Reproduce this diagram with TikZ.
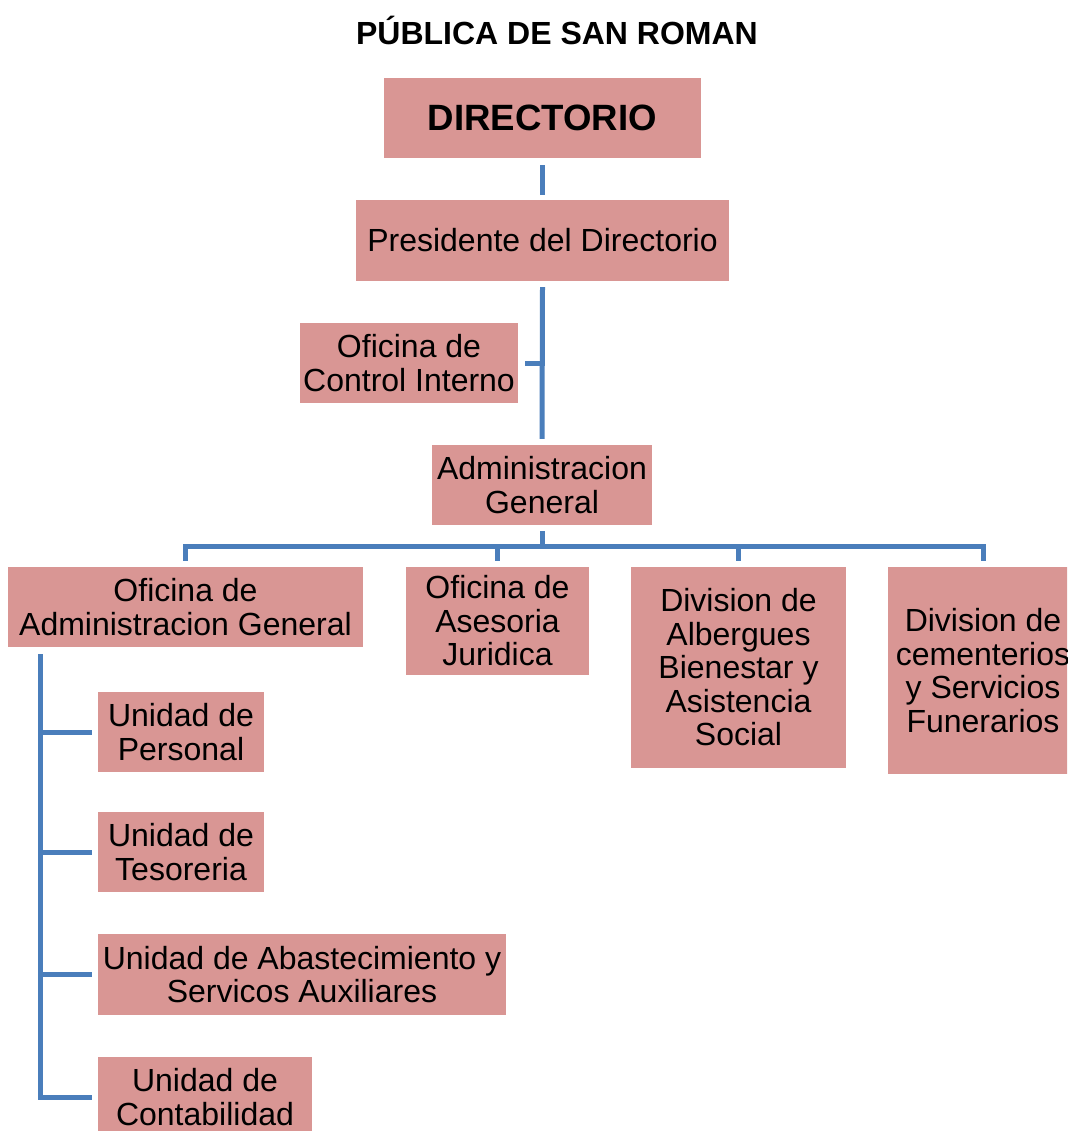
\documentclass[tikz,border=0pt]{standalone}
\usepackage{fontspec}
\setmainfont{Liberation Sans}
\usepackage{tikz}
\definecolor{boxpink}{RGB}{217,150,148}
\definecolor{linkblue}{RGB}{74,126,187}

\begin{document}
\begin{tikzpicture}
[x=1pt,y=-1pt]
\tikzstyle{pink box}=[fill=boxpink,inner sep=0,align=center,font=\fontsize{32}{33.5}\selectfont]
\tikzstyle{link}=[draw=linkblue,line width=5pt]

\clip(0,0)rectangle(1067,1131);

\node(t)at(557,30){\fontsize{32}{34}\selectfont\bfseries PÚBLICA DE SAN ROMAN};

\node(0)[pink box,minimum width=317,minimum height=80,font=\fontsize{36.6}{40}\selectfont\bfseries]at(542.5,118){DIRECTORIO};
\node(1)[pink box,minimum width=373,minimum height=81]at(542.5,240.5){Presidente del Directorio};
\node(2)[pink box,minimum width=218,minimum height=80]at(409,363){Oficina de\\Control Interno};
\node(3)[pink box,minimum width=220,minimum height=80]at(542,485){Administracion\\General};

\node(4)[pink box,minimum width=355,minimum height=80]at(185.5,607){Oficina de\\Administracion General};
\node(5)[pink box,minimum width=183,minimum height=108]at(497.5,621){Oficina de\\Asesoria\\Juridica};
\node(6)[pink box,minimum width=215,minimum height=201]at(738.5,667.5){Division de\\Albergues\\Bienestar y\\Asistencia\\Social};
\node(7)[pink box,minimum width=190,minimum height=207]at(983,670.5){Division de\\cementerios\\y Servicios\\Funerarios};

\node(8)[pink box,minimum width=166,minimum height=80]at(181,732){Unidad de\\Personal};
\node(9)[pink box,minimum width=166,minimum height=80]at(181,852){Unidad de\\Tesoreria};
\node(10)[pink box,minimum width=408,minimum height=81]at(302,974.5){Unidad de Abastecimiento y\\Servicos Auxiliares};
\node(11)[pink box,minimum width=214,minimum height=80]at(205,1097){Unidad de\\Contabilidad};

% top of the chart
\draw[link]([yshift=-7pt]0.south)--([yshift=5pt]1.north);
\draw[link]([yshift=-6pt]1.south)--([yshift=6pt]3.north);
\draw[link]([xshift=7pt]2.east)--(2.east-|1.south);

% branches under Administracion General
\coordinate(bus)at(542,546);
\draw[link]([yshift=-6pt]3.south)--(bus);
\draw[link]([yshift=6pt]4.north)|-(bus)-|([yshift=6pt]7.north);
\draw[link]([yshift=6pt]5.north)--(5.north|-bus);
\draw[link]([yshift=6pt]6.north)--(6.north|-bus);

% units
\coordinate(spine)at(40,654);
\draw[link](spine)|-([xshift=-6pt]11.west);
\draw[link](spine|-8.west)--([xshift=-6pt]8.west);
\draw[link](spine|-9.west)--([xshift=-6pt]9.west);
\draw[link](spine|-10.west)--([xshift=-6pt]10.west);
\end{tikzpicture}
\end{document}
